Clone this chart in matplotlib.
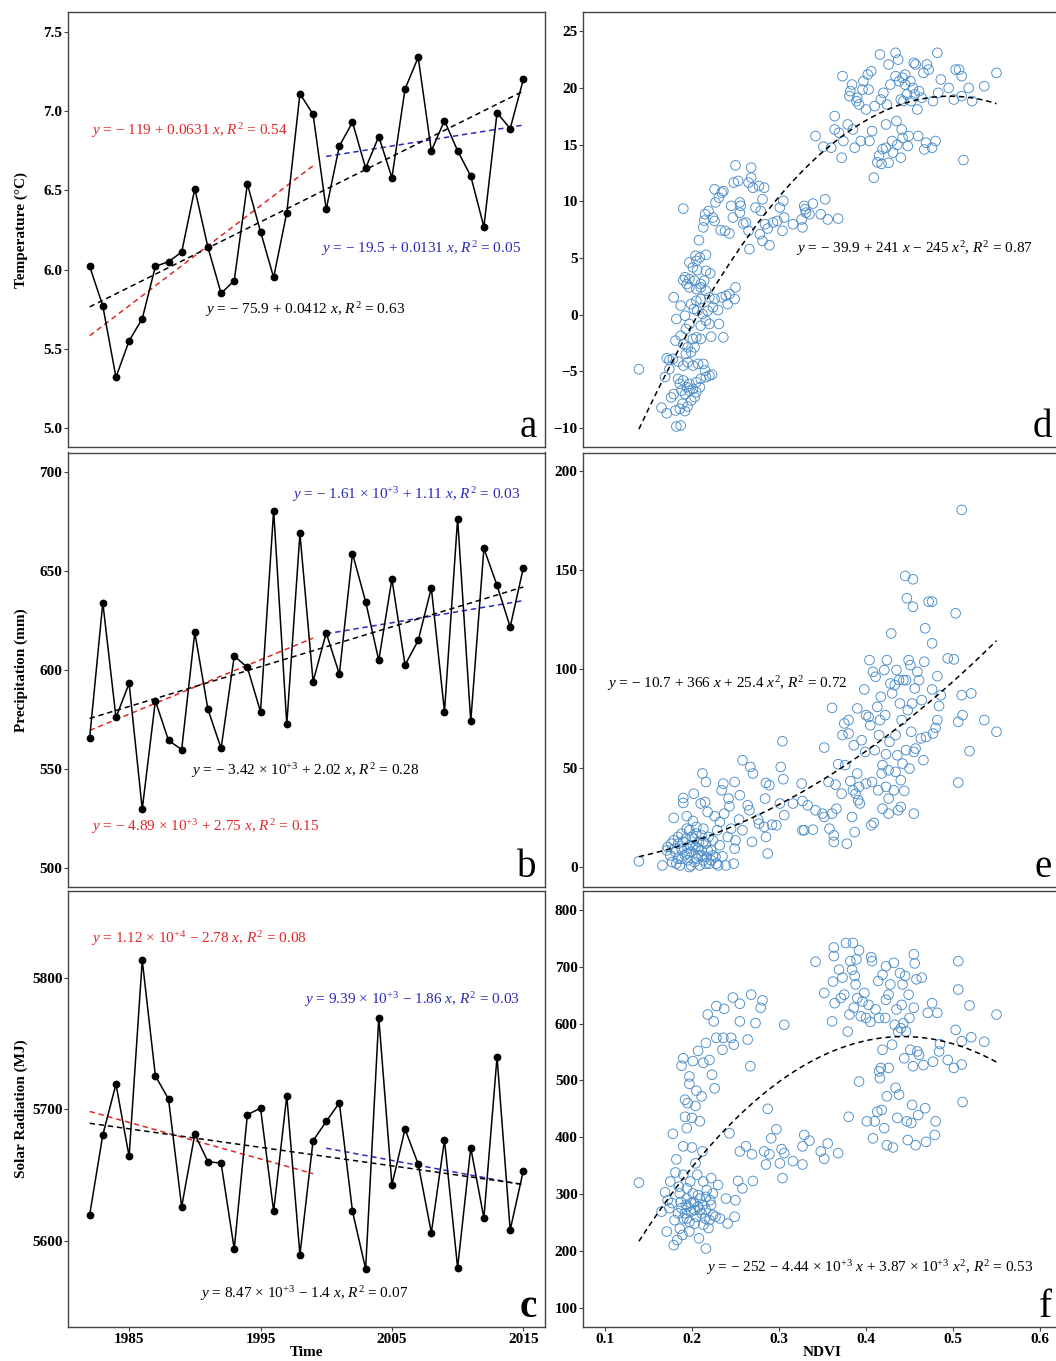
import matplotlib
matplotlib.use("Agg")
import matplotlib.pyplot as plt
import numpy as np

plt.rcParams["font.family"] = ["Liberation Serif", "DejaVu Serif"]
plt.rcParams["mathtext.fontset"] = "custom"
plt.rcParams["mathtext.rm"] = "Liberation Serif"
plt.rcParams["mathtext.it"] = "Liberation Serif:italic"
plt.rcParams["mathtext.bf"] = "Liberation Serif:bold"

years = list(range(1982, 2016))
temperature = [6.02, 5.77, 5.32, 5.55, 5.69, 6.02, 6.05, 6.11, 6.51, 6.14,
               5.85, 5.93, 6.54, 6.24, 5.95, 6.36, 7.11, 6.98, 6.38, 6.78,
               6.93, 6.64, 6.84, 6.58, 7.14, 7.34, 6.75, 6.94, 6.75, 6.59,
               6.27, 6.99, 6.89, 7.20]
precipitation = [565.5, 633.8, 575.8, 593.0, 529.5, 584.2, 564.2, 559.6, 618.8, 579.9,
                 560.2, 606.8, 601.1, 578.7, 680.3, 572.3, 668.7, 593.9, 618.5, 597.7,
                 658.6, 634.3, 604.6, 645.7, 602.3, 614.7, 641.2, 578.7, 676.2, 573.8,
                 661.2, 642.5, 621.5, 651.3]
radiation = [5619.7, 5680.5, 5719.0, 5664.0, 5813.2, 5725.3, 5707.6, 5625.8, 5681.0, 5660.0,
             5659.0, 5593.7, 5695.7, 5700.8, 5622.3, 5710.1, 5589.4, 5676.0, 5690.6, 5704.8,
             5622.3, 5578.5, 5769.6, 5642.5, 5684.8, 5658.2, 5606.1, 5676.5, 5579.5, 5670.6,
             5617.2, 5739.7, 5608.1, 5653.2]

# NDVI vs temperature (panel d)
ndvi_d = [0.139, 0.165, 0.171, 0.169, 0.171, 0.174, 0.176, 0.179, 0.182, 0.187, 0.181, 0.186,
          0.189, 0.192, 0.195, 0.199, 0.203, 0.205, 0.209, 0.186, 0.190, 0.194, 0.197, 0.201,
          0.184, 0.188, 0.192, 0.197, 0.205, 0.210, 0.215, 0.216, 0.220, 0.223, 0.213, 0.207,
          0.201, 0.195, 0.190, 0.184, 0.178, 0.174, 0.193, 0.199, 0.203, 0.195, 0.190, 0.181,
          0.187, 0.193, 0.197, 0.182, 0.179, 0.187, 0.192, 0.201, 0.205, 0.210, 0.222, 0.236,
          0.210, 0.216, 0.220, 0.231, 0.206, 0.212, 0.218, 0.224, 0.230, 0.202, 0.199, 0.205,
          0.210, 0.220, 0.226, 0.234, 0.239, 0.241, 0.249, 0.250, 0.243, 0.216, 0.210, 0.205,
          0.197, 0.194, 0.190, 0.192, 0.197, 0.203, 0.210, 0.214, 0.221, 0.216, 0.206, 0.201,
          0.197, 0.205, 0.209, 0.204, 0.216, 0.208, 0.213, 0.214, 0.215, 0.219, 0.224, 0.226,
          0.227, 0.231, 0.234, 0.226, 0.236, 0.190, 0.233, 0.238, 0.243, 0.245, 0.247, 0.248,
          0.250, 0.253, 0.255, 0.256, 0.255, 0.259, 0.262, 0.266, 0.265, 0.265, 0.268, 0.268,
          0.270, 0.273, 0.277, 0.283, 0.281, 0.279, 0.278, 0.281, 0.284, 0.287, 0.289, 0.293,
          0.298, 0.304, 0.306, 0.305, 0.301, 0.316, 0.327, 0.326, 0.329, 0.331, 0.335, 0.339,
          0.330, 0.348, 0.353, 0.356, 0.368,
          0.342, 0.351, 0.360, 0.364, 0.364, 0.369, 0.372, 0.373, 0.374, 0.379, 0.381, 0.382,
          0.384, 0.385, 0.387, 0.389, 0.390, 0.392, 0.394, 0.396, 0.397, 0.400, 0.402, 0.403,
          0.404, 0.406, 0.407, 0.409, 0.410, 0.413, 0.415, 0.416, 0.417, 0.418, 0.419, 0.420,
          0.423, 0.423, 0.424, 0.426, 0.426, 0.428, 0.430, 0.431, 0.434, 0.434, 0.435, 0.436,
          0.437, 0.438, 0.440, 0.440, 0.441, 0.442, 0.442, 0.443, 0.445, 0.445, 0.447, 0.448,
          0.449, 0.451, 0.452, 0.454, 0.455, 0.456, 0.457, 0.459, 0.460, 0.461, 0.464, 0.466,
          0.467, 0.469, 0.470, 0.472, 0.476, 0.477, 0.480, 0.482, 0.483, 0.486, 0.495, 0.501,
          0.503, 0.507, 0.510, 0.510, 0.512, 0.518, 0.522, 0.536, 0.550]
temp_d = [-4.81, -8.2, -8.7, -5.5, -3.84, -4.8, -7.3, -7.0, -9.86, -9.77, -8.45, -8.3,
          -7.86, -8.5, -8.1, -7.57, -7.27, -6.84, -6.4, -6.1, -5.8, -6.4, -6.1, -6.54,
          -5.66, -6.7, -7.0, -6.7, -5.96, -5.66, -4.93, -5.5, -5.37, -5.28, -4.34, -4.34,
          -4.49, -4.2, -4.49, -4.14, -3.9, -4.0, -3.46, -3.3, -2.88, -2.88, -2.58, -2.29,
          -1.85, -1.26, -0.82, -0.38, 1.53, 0.8, -0.09, -2.14, -2.0, -2.14, -1.94, -2.0,
          -0.97, -0.53, -0.82, -0.82, 0.35, 0.06, 0.35, 0.65, 0.41, 0.5, 0.94, 1.23,
          1.38, 1.53, 1.38, 1.53, 1.67, 0.94, 1.38, 2.41, 1.82, 2.11, 2.41, 2.26,
          2.41, 2.7, 3.05, 3.3, 3.14, 3.0, 2.7, 3.0, 3.64, 3.87, 3.93, 4.17,
          4.6, 4.75, 5.05, 5.2, 5.28, 6.57, 7.7, 8.3, 8.86, 9.15, 8.57, 8.27,
          9.9, 10.33, 10.77, 11.06, 10.9, 9.36, 7.45, 7.4, 7.16, 9.6, 8.57, 11.65,
          13.17, 11.8, 9.9, 9.6, 9.0, 8.04, 8.13, 5.78, 7.4, 11.65, 12.09, 12.97,
          11.2, 9.45, 11.35, 11.2, 10.18, 9.16, 7.1, 6.51, 7.98, 7.6, 6.13, 8.13,
          8.27, 7.4, 8.57, 10.04, 9.45, 7.98, 7.7, 8.4, 9.6, 9.0, 8.86, 9.8,
          9.3, 8.86, 10.18, 8.4, 8.48,
          15.76, 14.82, 14.73, 17.52, 16.34, 16.05, 13.85, 21.04, 15.32, 16.78, 19.28, 19.72,
          20.3, 16.34, 14.73, 18.84, 19.13, 18.54, 15.32, 19.86, 20.6, 18.1, 21.18, 19.86,
          15.32, 21.48, 16.2, 12.09, 18.4, 13.44, 14.03, 22.95, 18.98, 13.3, 14.6, 19.57,
          14.73, 16.78, 18.54, 13.4, 22.07, 20.3, 15.32, 14.3, 21.04, 23.1, 17.08, 14.99,
          22.5, 20.6, 18.98, 13.85, 16.34, 15.6, 20.9, 18.84, 20.3, 21.18, 19.43, 14.88,
          15.76, 20.6, 18.84, 20.0, 22.21, 19.43, 22.07, 18.1, 15.76, 19.72, 19.13, 21.33,
          14.58, 15.17, 22.07, 21.62, 14.73, 18.84, 15.32, 23.1, 19.57, 20.75, 20.0, 18.98,
          21.62, 21.62, 21.04, 19.28, 13.64, 20.0, 18.84, 20.16, 21.33]

# NDVI vs precipitation (panel e)
ndvi_e = [0.139, 0.166, 0.171, 0.172, 0.175, 0.177, 0.179, 0.179, 0.181, 0.184, 0.184, 0.186,
          0.188, 0.190, 0.190, 0.192, 0.193, 0.194, 0.194, 0.195, 0.197, 0.197, 0.199, 0.200,
          0.201, 0.202, 0.203, 0.204, 0.205, 0.207, 0.208, 0.209, 0.210, 0.211, 0.212, 0.213,
          0.213, 0.215, 0.216, 0.216, 0.217, 0.218, 0.219, 0.220, 0.222, 0.224, 0.226, 0.227,
          0.229, 0.230, 0.232, 0.232, 0.234, 0.235, 0.236, 0.237, 0.239, 0.241, 0.242, 0.243,
          0.245, 0.248, 0.249, 0.249, 0.250, 0.254, 0.255, 0.258, 0.258, 0.264, 0.266, 0.267,
          0.269, 0.270, 0.276, 0.277, 0.283, 0.284, 0.285, 0.285, 0.287, 0.289, 0.292, 0.297,
          0.301, 0.302, 0.304, 0.305, 0.306, 0.316, 0.327, 0.326, 0.327, 0.329, 0.333, 0.339,
          0.342, 0.350, 0.352, 0.352, 0.357, 0.358, 0.361, 0.361, 0.363, 0.363, 0.365, 0.366,
          0.368, 0.372, 0.373, 0.375, 0.376, 0.378, 0.380, 0.380, 0.382, 0.384, 0.385, 0.386,
          0.387, 0.388, 0.390, 0.390, 0.391, 0.392, 0.393, 0.395, 0.398, 0.399, 0.400, 0.400,
          0.403, 0.404, 0.405, 0.406, 0.407, 0.408, 0.409, 0.410, 0.411, 0.413, 0.414, 0.415,
          0.416, 0.417, 0.418, 0.419, 0.419, 0.421, 0.422, 0.423, 0.423, 0.424, 0.426, 0.426,
          0.426, 0.427, 0.428, 0.429, 0.430, 0.432, 0.433, 0.434, 0.434, 0.435, 0.436, 0.437,
          0.438, 0.439, 0.440, 0.440, 0.441, 0.442, 0.443, 0.444, 0.445, 0.446, 0.446, 0.447,
          0.448, 0.449, 0.450, 0.451, 0.452, 0.453, 0.454, 0.454, 0.455, 0.455, 0.456, 0.457,
          0.459, 0.461, 0.463, 0.464, 0.466, 0.467, 0.468, 0.469, 0.472, 0.476, 0.476, 0.476,
          0.477, 0.480, 0.482, 0.482, 0.484, 0.486, 0.494, 0.501, 0.503, 0.506, 0.506, 0.510,
          0.510, 0.511, 0.519, 0.521, 0.536, 0.550,
          0.182, 0.188, 0.194, 0.199, 0.205, 0.211, 0.216, 0.222, 0.228, 0.195, 0.201, 0.207,
          0.213, 0.218, 0.224, 0.190, 0.202, 0.211, 0.180, 0.176, 0.197, 0.205, 0.188, 0.184]
prec_e = [2.9, 0.8, 8.4, 10.1, 5.9, 2.5, 13.5, 24.8, 7.6, 11.8, 4.2, 0.8,
          9.3, 34.9, 32.4, 5.9, 14.3, 19.4, 25.7, 3.4, 11.0, 0.0, 7.6, 15.2,
          23.3, 37.1, 2.5, 10.1, 16.9, 5.9, 12.7, 0.8, 32.1, 8.4, 47.3, 19.4,
          3.4, 32.9, 43.0, 11.8, 5.1, 27.8, 15.2, 1.7, 8.4, 13.5, 25.7, 5.1,
          18.6, 0.8, 11.0, 22.8, 38.8, 5.4, 42.2, 27.0, 0.8, 15.2, 34.6, 30.7,
          19.4, 1.7, 43.0, 9.3, 13.5, 24.0, 36.3, 54.0, 18.6, 31.2, 28.7, 50.6,
          12.7, 47.3, 24.0, 21.9, 20.3, 34.6, 15.2, 42.5, 6.8, 41.4, 21.4, 21.1,
          32.1, 50.6, 63.6, 44.4, 26.2, 32.1, 18.6, 42.2, 33.4, 18.6, 31.2, 18.9,
          28.7, 27.0, 60.4, 25.3, 43.0, 19.4, 27.0, 80.5, 16.0, 12.7, 41.7, 29.5,
          52.0, 37.1, 66.7, 72.6, 51.5, 11.8, 74.3, 67.5, 43.4, 25.3, 38.8, 61.6,
          17.7, 37.1, 80.2, 47.3, 33.8, 40.5, 32.1, 64.1, 89.8, 58.2, 76.8, 42.2,
          75.9, 104.6, 71.7, 21.1, 43.0, 98.7, 22.3, 59.1, 96.2, 81.0, 38.8, 66.7,
          74.3, 86.1, 47.3, 29.5, 51.5, 99.6, 76.8, 40.5, 57.0, 104.6, 34.6, 48.9,
          27.0, 63.3, 92.8, 118.1, 87.8, 38.8, 92.0, 48.1, 66.7, 99.6, 56.5, 28.7,
          94.5, 82.7, 30.4, 43.9, 74.3, 52.3, 94.5, 38.5, 147.2, 59.1, 94.5, 135.9,
          79.3, 104.6, 49.8, 102.1, 68.4, 82.7, 131.6, 145.5, 27.0, 58.2, 90.3, 59.9,
          98.7, 94.5, 65.0, 84.4, 54.0, 103.8, 120.7, 65.8, 134.2, 134.2, 113.1, 89.8,
          67.5, 70.4, 74.3, 96.5, 81.4, 86.9, 105.5, 105.0, 128.3, 42.7, 73.4, 86.9,
          180.6, 76.8, 58.6, 87.8, 74.3, 68.4,
          1.7, 4.2, 6.8, 0.8, 4.2, 5.9, 1.7, 3.4, 1.7, 9.3, 11.0, 9.3,
          12.7, 8.4, 5.9, 12.7, 14.3, 16.0, 9.3, 11.8, 18.6, 20.3, 16.9, 15.2]

# NDVI vs solar radiation (panel f)
ndvi_f = [0.139, 0.165, 0.169, 0.171, 0.172, 0.174, 0.175, 0.177, 0.178, 0.179, 0.180, 0.181,
          0.182, 0.183, 0.184, 0.185, 0.186, 0.187, 0.188, 0.189, 0.190, 0.190, 0.190, 0.192,
          0.192, 0.193, 0.194, 0.194, 0.194, 0.195, 0.197, 0.197, 0.197, 0.198, 0.199, 0.200,
          0.200, 0.201, 0.202, 0.203, 0.204, 0.204, 0.205, 0.206, 0.207, 0.207, 0.208, 0.209,
          0.209, 0.211, 0.212, 0.213, 0.213, 0.213, 0.215, 0.216, 0.216, 0.217, 0.218, 0.219,
          0.220, 0.221, 0.222, 0.223, 0.224, 0.225, 0.226, 0.227, 0.228, 0.228, 0.230, 0.232,
          0.235, 0.236, 0.237, 0.239, 0.241, 0.243, 0.245, 0.247, 0.248, 0.249, 0.250, 0.253,
          0.255, 0.255, 0.255, 0.258, 0.262, 0.264, 0.267, 0.268, 0.269, 0.270, 0.273, 0.279,
          0.281, 0.283, 0.285, 0.287, 0.289, 0.291, 0.297, 0.301, 0.303, 0.304, 0.306, 0.306,
          0.316, 0.327, 0.329, 0.327, 0.335, 0.342, 0.348, 0.352, 0.352, 0.356, 0.361, 0.362,
          0.363, 0.363, 0.364, 0.368, 0.369, 0.371, 0.373, 0.375, 0.377, 0.379, 0.380, 0.381,
          0.382, 0.384, 0.385, 0.386, 0.387, 0.388, 0.389, 0.390, 0.392, 0.392, 0.394, 0.396,
          0.398, 0.400, 0.401, 0.403, 0.405, 0.406, 0.407, 0.408, 0.410, 0.411, 0.413, 0.414,
          0.415, 0.415, 0.416, 0.417, 0.418, 0.419, 0.419, 0.421, 0.422, 0.423, 0.423, 0.424,
          0.424, 0.426, 0.426, 0.428, 0.430, 0.431, 0.432, 0.433, 0.434, 0.435, 0.436, 0.437,
          0.438, 0.439, 0.440, 0.441, 0.442, 0.443, 0.444, 0.445, 0.446, 0.447, 0.448, 0.449,
          0.450, 0.451, 0.452, 0.453, 0.454, 0.455, 0.455, 0.456, 0.457, 0.458, 0.459, 0.460,
          0.461, 0.464, 0.466, 0.468, 0.469, 0.471, 0.476, 0.477, 0.479, 0.480, 0.482, 0.484,
          0.485, 0.494, 0.501, 0.503, 0.506, 0.506, 0.510, 0.510, 0.511, 0.519, 0.521, 0.536,
          0.550,
          0.188, 0.192, 0.195, 0.199, 0.203, 0.207, 0.211, 0.216, 0.222, 0.190, 0.197, 0.205,
          0.213, 0.220, 0.186, 0.194, 0.201, 0.209, 0.216, 0.224]
rad_f = [320, 269, 303, 234, 289, 275, 322, 284, 406, 210, 254, 338,
         361, 219, 266, 313, 239, 286, 526, 228, 384, 539, 334, 436,
         466, 281, 310, 257, 416, 460, 234, 494, 507, 322, 269, 382,
         434, 534, 286, 248, 354, 455, 482, 334, 298, 552, 222, 272,
         428, 472, 375, 322, 531, 281, 257, 204, 566, 307, 616, 240,
         536, 289, 328, 510, 263, 604, 486, 260, 631, 575, 316, 257,
         554, 575, 626, 292, 248, 407, 575, 646, 563, 260, 289, 323,
         635, 604, 375, 310, 384, 572, 525, 651, 370, 323, 601, 628,
         641, 375, 352, 450, 370, 398, 414, 354, 379, 328, 598, 372,
         358, 352, 404, 384, 394, 709, 375, 654, 362, 389, 604, 674,
         734, 719, 636, 372, 695, 645, 681, 651, 742, 586, 436, 616,
         710, 695, 742, 628, 684, 669, 713, 645, 729, 498, 613, 639,
         654, 610, 428, 633, 603, 717, 710, 398, 428, 625, 445, 675,
         516, 610, 504, 522, 448, 554, 686, 416, 610, 642, 701, 386,
         472, 522, 651, 669, 563, 382, 707, 598, 487, 625, 434, 586,
         475, 689, 592, 633, 669, 601, 539, 684, 586, 428, 395, 651,
         610, 554, 425, 457, 525, 628, 722, 706, 386, 678, 551, 439,
         545, 681, 527, 451, 392, 619, 636, 533, 404, 428, 619, 551,
         564, 536, 522, 589, 710, 660, 569, 528, 462, 632, 576, 568,
         616,
         275, 266, 278, 284, 272, 278, 266, 272, 281, 257, 251, 260,
         246, 254, 301, 292, 301, 292, 295, 301]

red = "#e0282a"
blue = "#2a2ab8"
circle = "#4a8cc8"


def time_panel(ax, values, eqs, ylim, yticks, ylabel, letter, letter_weight="normal"):
    yrs = np.array(years)
    v = np.array(values)
    ax.plot(yrs, v, color="black", lw=1.1, marker="o", ms=4.6, zorder=3)
    segs = [(yrs <= 1999, red), (yrs >= 2000, blue), (yrs > 0, "black")]
    for mask, col in segs:
        k = np.polyfit(yrs[mask], v[mask], 1)
        xx = yrs[mask][[0, -1]]
        ax.plot(xx, np.polyval(k, xx), ls=(0, (3.5, 2.5)), color=col, lw=1.1, zorder=2)
    for x, y, txt, col in eqs:
        ax.text(x, y, txt, color=col, fontsize=11, ha="left", va="center")
    ax.set_xlim(1980.35, 2016.65)
    ax.set_ylim(*ylim)
    ax.set_yticks(yticks)
    ax.set_ylabel(ylabel, fontsize=11, fontweight="bold")
    ax.yaxis.set_label_coords(-0.083, 0.5)
    ax.text(0.982, 0.022, letter, transform=ax.transAxes, ha="right",
            va="baseline", fontsize=28, fontweight=letter_weight)


def ndvi_panel(ax, x, y, eq, ylim, yticks, letter):
    x = np.array(x)
    y = np.array(y)
    ax.scatter(x, y, s=48, facecolors="none", edgecolors=circle, linewidths=0.65, zorder=2)
    k = np.polyfit(x, y, 2)
    xx = np.linspace(x.min(), x.max(), 200)
    ax.plot(xx, np.polyval(k, xx), ls=(0, (3.5, 2.5)), color="black", lw=1.1, zorder=3)
    ax.text(eq[0], eq[1], eq[2], fontsize=11, ha="left", va="center")
    ax.set_xlim(0.075, 0.625)
    ax.set_ylim(*ylim)
    ax.set_yticks(yticks)
    ax.text(0.979, 0.022, letter, transform=ax.transAxes, ha="right",
            va="baseline", fontsize=28)


fig = plt.figure(figsize=(10.56, 13.61), dpi=100)
W, H = 1056, 1361
rows = [(12, 447), (452.5, 887), (891, 1327)]
axes_l = [fig.add_axes([68 / W, 1 - b / H, 477 / W, (b - t) / H]) for t, b in rows]
axes_r = [fig.add_axes([583.25 / W, 1 - b / H, 478.5 / W, (b - t) / H]) for t, b in rows]

time_panel(axes_l[0], temperature, [
    (1982.1, 6.88, "$y$ = − 119 + 0.0631 $x$, $R^2$ = 0.54", red),
    (1999.6, 6.13, "$y$ = − 19.5 + 0.0131 $x$, $R^2$ = 0.05", blue),
    (1990.8, 5.75, "$y$ = − 75.9 + 0.0412 $x$, $R^2$ = 0.63", "black"),
], (4.88, 7.626), [5.0, 5.5, 6.0, 6.5, 7.0, 7.5], "Temperature (°C)", "a")

time_panel(axes_l[1], precipitation, [
    (1997.4, 688.2, "$y$ = − 1.61 × 10$^{+3}$ + 1.11 $x$, $R^2$ = 0.03", blue),
    (1989.7, 549.2, "$y$ = − 3.42 × 10$^{+3}$ + 2.02 $x$, $R^2$ = 0.28", "black"),
    (1982.1, 520.6, "$y$ = − 4.89 × 10$^{+3}$ + 2.75 $x$, $R^2$ = 0.15", red),
], (490.2, 709.6), [500, 550, 600, 650, 700], "Precipitation (mm)", "b")

time_panel(axes_l[2], radiation, [
    (1982.1, 5829.9, "$y$ = 1.12 × 10$^{+4}$ − 2.78 $x$, $R^2$ = 0.08", red),
    (1998.3, 5783.0, "$y$ = 9.39 × 10$^{+3}$ − 1.86 $x$, $R^2$ = 0.03", blue),
    (1990.4, 5560.0, "$y$ = 8.47 × 10$^{+3}$ − 1.4 $x$, $R^2$ = 0.07", "black"),
], (5534.4, 5865.8), [5600, 5700, 5800], "Solar Radiation (MJ)", "c", "bold")

ndvi_panel(axes_r[0], ndvi_d, temp_d,
           (0.3195, 5.84, "$y$ = − 39.9 + 241 $x$ − 245 $x^2$, $R^2$ = 0.87"),
           (-11.67, 26.7), [-10, -5, 0, 5, 10, 15, 20, 25], "d")
ndvi_panel(axes_r[1], ndvi_e, prec_e,
           (0.102, 92.8, "$y$ = − 10.7 + 366 $x$ + 25.4 $x^2$, $R^2$ = 0.72"),
           (-10.1, 209.6), [0, 50, 100, 150, 200], "e")
ndvi_panel(axes_r[2], ndvi_f, rad_f,
           (0.2164, 170, "$y$ = − 252 − 4.44 × 10$^{+3}$ $x$ + 3.87 × 10$^{+3}$ $x^2$, $R^2$ = 0.53"),
           (65.9, 833.5), [100, 200, 300, 400, 500, 600, 700, 800], "f")

for ax in axes_l + axes_r:
    for sp in ax.spines.values():
        sp.set_color("#444444")
        sp.set_linewidth(1.0)
    ax.tick_params(direction="out", length=3, width=0.8, color="#444444",
                   labelsize=11, pad=1)
    for lab in ax.get_yticklabels() + ax.get_xticklabels():
        lab.set_fontweight("bold")

for ax in axes_l[:2] + axes_r[:2]:
    ax.tick_params(axis="x", bottom=False, labelbottom=False)

axes_l[2].set_xticks([1985, 1995, 2005, 2015])
axes_l[2].set_xlabel("Time", fontsize=11, fontweight="bold", labelpad=0)
axes_r[2].set_xticks([0.1, 0.2, 0.3, 0.4, 0.5, 0.6])
axes_r[2].set_xticklabels(["0.1", "0.2", "0.3", "0.4", "0.5", "0.6"], fontweight="bold")
axes_r[2].set_xlabel("NDVI", fontsize=11, fontweight="bold", labelpad=0)

fig.savefig("out.png", dpi=100)
